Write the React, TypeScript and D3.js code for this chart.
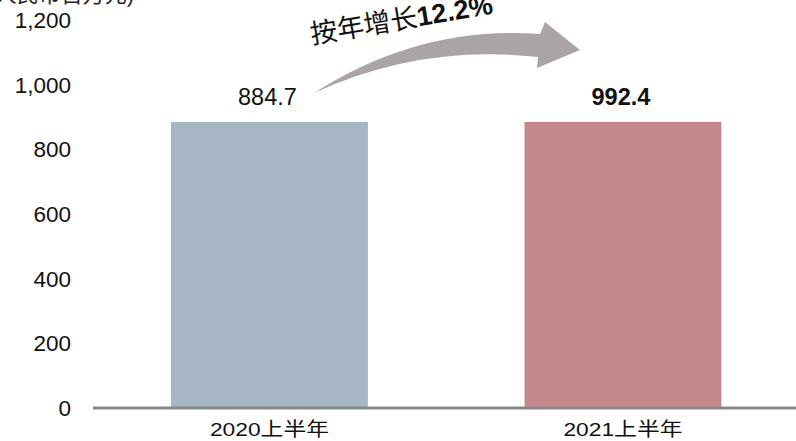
import React from "react";
import * as d3 from "d3";

const categories = ["2020上半年", "2021上半年"];
const barValues = [884.7, 884.7];
const valueLabels = ["884.7", "992.4"];
const boldLabel = [false, true];
const yTicks = [0, 200, 400, 600, 800, 1000, 1200];
const barColors = ["#a7b6c4", "#c4878c"];
const unitText = "(人民币百万元)";
const growthPrefix = "按年增长";
const growthValue = "12.2%";

const W = 796;
const H = 441;
const latin = "'Liberation Sans', Arial, sans-serif";
const cjk = "'Liberation Sans', 'Noto Sans CJK SC', sans-serif";

export default function App() {
  const y = d3.scaleLinear().domain([0, 1200]).range([408, 20]);
  const x = d3
    .scaleBand<string>()
    .domain(categories)
    .range([14.4, 878])
    .paddingInner(0.443)
    .paddingOuter(0.443);
  const fmt = d3.format(",");

  const arrow = d3.path();
  arrow.moveTo(314, 93);
  arrow.quadraticCurveTo(420, 25, 540, 34);
  arrow.lineTo(545, 22);
  arrow.lineTo(580, 50);
  arrow.lineTo(537, 68);
  arrow.lineTo(538, 57);
  arrow.quadraticCurveTo(420, 44, 314, 93);
  arrow.closePath();

  return (
    <svg
      width={W}
      height={H}
      style={{ position: "absolute", left: 0, top: 0, background: "#fff" }}
    >
      <text x={134} y={1.5} fontSize={22} textAnchor="end" fontFamily={cjk} fill="#222">
        {unitText}
      </text>
      {yTicks.map((t) => (
        <text
          key={t}
          x={71}
          y={y(t)}
          dy="0.36em"
          textAnchor="end"
          fontSize={22.5}
          fontFamily={latin}
          fill="#111"
        >
          {fmt(t)}
        </text>
      ))}
      {categories.map((c, i) => (
        <rect
          key={c}
          x={x(c)}
          y={y(barValues[i])}
          width={x.bandwidth()}
          height={y(0) - y(barValues[i])}
          fill={barColors[i]}
        />
      ))}
      <line x1={93} x2={796} y1={y(0)} y2={y(0)} stroke="#888" strokeWidth={3} />
      {categories.map((c, i) => {
        const cx = (x(c) as number) + x.bandwidth() / 2;
        return (
          <g key={"c" + c} transform={`translate(${cx},436) scale(1.2,1)`}>
            <text
              x={0}
              y={0}
              textAnchor="middle"
              fontSize={19}
              fontFamily={cjk}
              fill="#111"
            >
              {c}
            </text>
          </g>
        );
      })}
      {categories.map((c, i) => (
        <text
          key={"v" + c}
          x={(x(c) as number) + x.bandwidth() / 2 - 2}
          y={y(barValues[i]) - 17}
          textAnchor="middle"
          fontSize={23.5}
          fontWeight={boldLabel[i] ? "bold" : "normal"}
          fontFamily={latin}
          fill="#111"
        >
          {valueLabels[i]}
        </text>
      ))}
      <path d={arrow.toString()} fill="#aaa5a4" />
      <g transform="translate(312,44) rotate(-9.5)">
        <text x={0} y={0} fontSize={27} fontFamily={cjk} fill="#111">
          <tspan>{growthPrefix}</tspan>
          <tspan fontWeight="bold" fontFamily={latin}>
            {growthValue}
          </tspan>
        </text>
      </g>
    </svg>
  );
}
